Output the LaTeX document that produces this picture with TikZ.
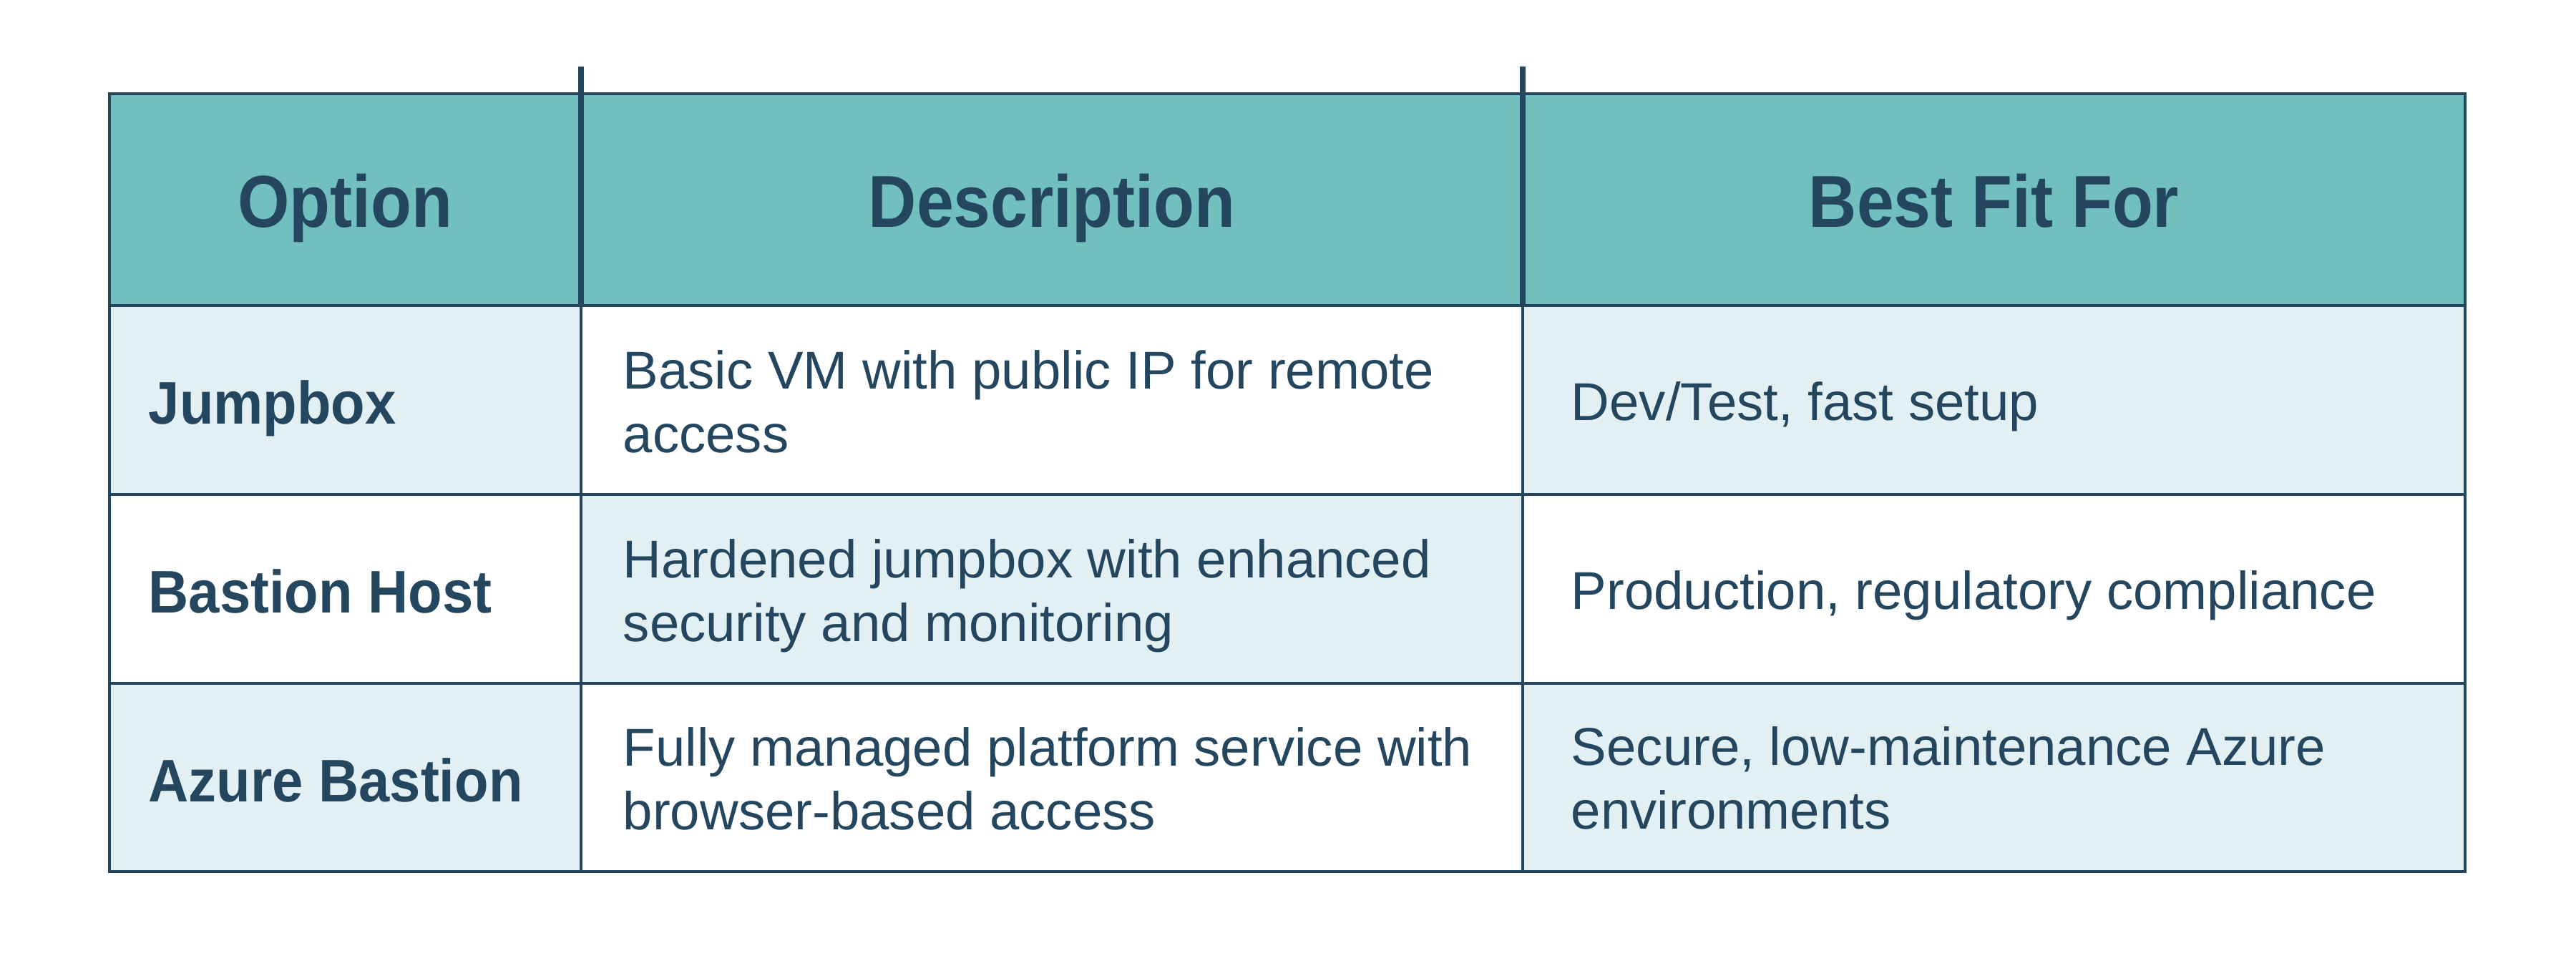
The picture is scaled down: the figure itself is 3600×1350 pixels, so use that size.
\documentclass[tikz,border=0pt]{standalone}
\usepackage{fontspec}
\setmainfont{Liberation Sans}
\newfontfamily\headfont{Liberation Sans}[FakeStretch=0.906]
\newfontfamily\labelfont{Liberation Sans}[FakeStretch=0.926]
\definecolor{navy}{HTML}{24475F}
\definecolor{teal}{HTML}{71BFBF}
\definecolor{pale}{HTML}{E2EFF3}
\begin{document}
\begin{tikzpicture}[x=0.25pt,y=-0.25pt,
  grid/.style={draw=navy,line width=1.1pt},
  thick grid/.style={draw=navy,line width=2pt},
  head/.style={font=\headfont\fontsize{25.7}{30}\selectfont\bfseries,text=navy,inner sep=0pt,anchor=base},
  label/.style={font=\labelfont\fontsize{21}{25}\selectfont\bfseries,text=navy,inner sep=0pt,anchor=base west},
  body/.style={font=\fontsize{18.6}{22.25}\selectfont,text=navy,inner sep=0pt,anchor=base west,align=left}]
\useasboundingbox (0,0) rectangle (3600,1350);
% header fill
\fill[teal] (153,131) rectangle (3445,427);
% checkerboard fills
\fill[pale] (153,427) rectangle (812,691);
\fill[pale] (2128,427) rectangle (3445,691);
\fill[pale] (812,691) rectangle (2128,955);
\fill[pale] (153,955) rectangle (812,1218);
\fill[pale] (2128,955) rectangle (3445,1218);
% grid
\draw[grid] (153,131) rectangle (3445,1218);
\draw[grid] (153,427) -- (3445,427);
\draw[grid] (153,691) -- (3445,691);
\draw[grid] (153,955) -- (3445,955);
\draw[grid] (812,427) -- (812,1218);
\draw[grid] (2128,427) -- (2128,1218);
\draw[thick grid] (812,93) -- (812,427);
\draw[thick grid] (2128,93) -- (2128,427);
% header
\node[head] (h1) at (482.5,317) {Option};
\node[head] (h2) at (1470,317) {Description};
\node[head] (h3) at (2786.5,317) {Best Fit For};
% labels
\node[label] (l1) at (207,592) {Jumpbox};
\node[label] (l2) at (207,856) {Bastion Host};
\node[label] (l3) at (207,1120) {Azure Bastion};
% descriptions (base = last line)
\node[body] (d1) at (870,632) {Basic VM with public IP for remote\\access};
\node[body] (d2) at (870,896) {Hardened jumpbox with enhanced\\security and monitoring};
\node[body] (d3) at (870,1159) {Fully managed platform service with\\browser-based access};
% best fit
\node[body] (b1) at (2195,587) {Dev/Test, fast setup};
\node[body] (b2) at (2195,851) {Production, regulatory compliance};
\node[body] (b3) at (2195,1158) {Secure, low-maintenance Azure\\environments};
\end{tikzpicture}
\end{document}
